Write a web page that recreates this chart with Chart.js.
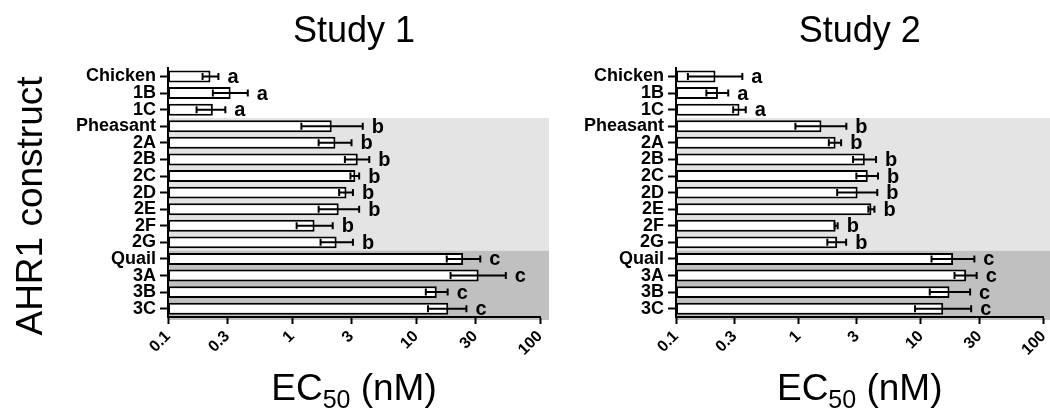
<!DOCTYPE html>
<html>
<head>
<meta charset="utf-8">
<script src="https://cdn.jsdelivr.net/npm/chart.js@4"></script>
<style>
  body { margin: 0; background: #fff; overflow: hidden; }
  #wrap { position: relative; width: 1050px; height: 410px; overflow: hidden; }
  canvas { position: absolute; top: 0; }
</style>
</head>
<body>
<div id="wrap">
  <canvas id="study1" width="560" height="410" style="left:0"></canvas>
  <canvas id="study2" width="500" height="410" style="left:560px"></canvas>
</div>
<script>
// données (EC50 en nM)
var categories = ['Chicken', '1B', '1C', 'Pheasant', '2A', '2B', '2C', '2D', '2E', '2F', '2G', 'Quail', '3A', '3B', '3C'];
var letters = ['a', 'a', 'a', 'b', 'b', 'b', 'b', 'b', 'b', 'b', 'b', 'c', 'c', 'c', 'c'];
var tickValues = [0.1, 0.3, 1, 3, 10, 30, 100];

var study1Mean = [0.22, 0.32, 0.23, 2.09, 2.24, 3.39, 3.24, 2.75, 2.38, 1.52, 2.29, 24, 32, 14.7, 18.2];
var study1Low  = [0.19, 0.23, 0.17, 1.19, 1.64, 2.67, 2.96, 2.4, 1.64, 1.09, 1.70, 17.7, 19, 12, 12.5];
var study1High = [0.255, 0.44, 0.29, 3.72, 3.02, 4.2, 3.48, 3.1, 3.48, 2.13, 3.1, 33, 53, 18, 25.5];

var study2Mean = [0.21, 0.22, 0.33, 1.54, 2.01, 3.48, 3.68, 3.04, 3.94, 2.01, 2.07, 18.3, 23.4, 17.1, 15.2];
var study2Low  = [0.125, 0.177, 0.293, 0.944, 1.77, 2.79, 2.97, 2.07, 3.72, 1.97, 1.72, 12.2, 18.8, 11.8, 8.95];
var study2High = [0.348, 0.267, 0.371, 2.46, 2.23, 4.30, 4.46, 4.4, 4.17, 2.09, 2.45, 27.3, 28.5, 25.2, 25.7];

var FONT = "'Liberation Sans', Arial, sans-serif";

// fonds gris derrière les groupes Pheasant et Quail
var bandsPlugin = {
    id: 'bands',
    beforeDraw: function(chart) {
        var ctx = chart.ctx, area = chart.chartArea, y = chart.scales.y;
        var pheasantTop = (y.getPixelForValue(2) + y.getPixelForValue(3)) / 2;
        var quailTop = (y.getPixelForValue(10) + y.getPixelForValue(11)) / 2;
        ctx.save();
        ctx.fillStyle = '#e4e4e4';
        ctx.fillRect(area.left, pheasantTop, area.right + 9 - area.left, quailTop - pheasantTop);
        ctx.fillStyle = '#c0c0c0';
        ctx.fillRect(area.left, quailTop, area.right + 9 - area.left, area.bottom + 3 - quailTop);
        ctx.restore();
    }
};

// barres d'erreur + lettres de significativité
var errorPlugin = {
    id: 'errors',
    afterDatasetsDraw: function(chart, args, opts) {
        var ctx = chart.ctx, x = chart.scales.x;
        var bars = chart.getDatasetMeta(0).data;
        ctx.save();
        ctx.strokeStyle = '#000';
        ctx.lineWidth = 2;
        ctx.fillStyle = '#000';
        ctx.font = 'bold 20px ' + FONT;
        ctx.textAlign = 'left';
        ctx.textBaseline = 'middle';
        bars.forEach(function(bar, i) {
            var xl = x.getPixelForValue(opts.low[i]);
            var xh = x.getPixelForValue(opts.high[i]);
            ctx.beginPath();
            ctx.moveTo(xl, bar.y); ctx.lineTo(xh, bar.y);
            ctx.moveTo(xl, bar.y - 3.5); ctx.lineTo(xl, bar.y + 3.5);
            ctx.moveTo(xh, bar.y - 3.5); ctx.lineTo(xh, bar.y + 3.5);
            ctx.stroke();
            ctx.fillText(letters[i], xh + 9, bar.y + 1);
        });
        ctx.restore();
    }
};

// titres d'axes : EC50 avec indice, et "AHR1 construct" à la verticale
var axisTitlesPlugin = {
    id: 'axisTitles',
    afterDraw: function(chart, args, opts) {
        var ctx = chart.ctx, area = chart.chartArea;
        var big = '37px ' + FONT, small = '25px ' + FONT;
        ctx.save();
        ctx.fillStyle = '#000';
        ctx.textBaseline = 'alphabetic';
        ctx.textAlign = 'left';
        ctx.font = big; var w1 = ctx.measureText('EC').width, w3 = ctx.measureText(' (nM)').width;
        ctx.font = small; var w2 = ctx.measureText('50').width;
        var x0 = (area.left + area.right) / 2 - (w1 + w2 + w3) / 2, base = 400;
        ctx.font = big; ctx.fillText('EC', x0, base);
        ctx.font = small; ctx.fillText('50', x0 + w1, base + 8);
        ctx.font = big; ctx.fillText(' (nM)', x0 + w1 + w2, base);
        if (opts.yTitle) {
            ctx.translate(42, 206);
            ctx.rotate(-Math.PI / 2);
            ctx.textAlign = 'center';
            ctx.font = big;
            ctx.fillText(opts.yTitle, 0, 0);
        }
        ctx.restore();
    }
};

function makeChart(id, title, mean, low, high, yTitle, yWidth, padRight) {
    var ctx = document.getElementById(id).getContext('2d');
    return new Chart(ctx, {
        type: 'bar',
        data: {
            labels: categories,
            datasets: [{
                data: mean,
                backgroundColor: '#fff',
                borderColor: '#000',
                borderWidth: 2,
                borderSkipped: false,
                barPercentage: 0.72,
                categoryPercentage: 1
            }]
        },
        plugins: [bandsPlugin, errorPlugin, axisTitlesPlugin],
        options: {
            indexAxis: 'y',
            responsive: false,
            animation: false,
            layout: { padding: { left: 0, right: padRight, top: 0, bottom: 0 } },
            plugins: {
                legend: { display: false },
                tooltip: { enabled: false },
                title: {
                    display: true,
                    text: title,
                    fullSize: false,
                    color: '#000',
                    font: { family: FONT, size: 36, weight: 'normal' },
                    padding: { top: 10, bottom: 15 }
                },
                errors: { low: low, high: high },
                axisTitles: { yTitle: yTitle }
            },
            scales: {
                x: {
                    type: 'logarithmic',
                    min: 0.1,
                    max: 100,
                    afterBuildTicks: function(s) {
                        s.ticks = tickValues.map(function(v) { return { value: v }; });
                    },
                    afterFit: function(s) { s.height = 93; },
                    ticks: {
                        minRotation: 45,
                        maxRotation: 45,
                        autoSkip: false,
                        color: '#000',
                        padding: 3,
                        font: { family: FONT, size: 16, weight: 'bold' },
                        callback: function(v) { return String(v); }
                    },
                    grid: { drawOnChartArea: false, tickLength: 7, tickWidth: 2, tickColor: '#000' },
                    border: { color: '#000', width: 2 }
                },
                y: {
                    afterFit: function(s) { s.width = yWidth; },
                    ticks: {
                        autoSkip: false,
                        color: '#000',
                        padding: 4,
                        font: { family: FONT, size: 18, weight: 'bold' }
                    },
                    grid: { drawOnChartArea: false, offset: false, tickLength: 8, tickWidth: 2, tickColor: '#000' },
                    border: { color: '#000', width: 2 }
                }
            }
        }
    });
}

document.addEventListener('DOMContentLoaded', function() {
    makeChart('study1', 'Study 1', study1Mean, study1Low, study1High, 'AHR1 construct', 168, 20);
    makeChart('study2', 'Study 2', study2Mean, study2Low, study2High, null, 116, 12);
});
</script>
</body>
</html>
